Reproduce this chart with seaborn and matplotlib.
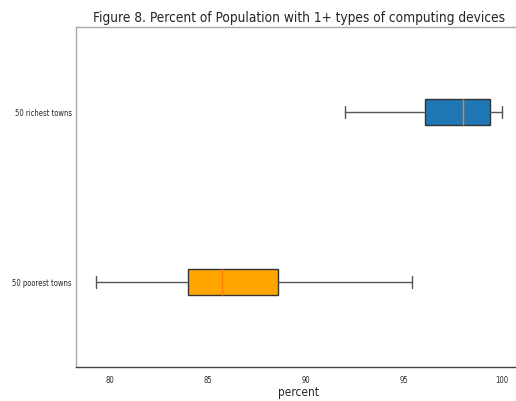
import matplotlib
matplotlib.use("Agg")
import matplotlib.pyplot as plt
import seaborn as sns

sns.set_style("white")
plt.rcParams['font.family'] = ['DejaVu Sans']
plt.rcParams['font.stretch'] = 'condensed'

categories = ["50 poorest towns", "50 richest towns"]
whislo = [79.3, 92.0]
q1 = [84.0, 96.1]
med = [85.7, 98.0]
q3 = [88.6, 99.4]
whishi = [95.4, 100.0]
box_colors = ["orange", "#1f77b4"]

stats = [dict(label=c, whislo=a, q1=b, med=m, q3=d, whishi=e, fliers=[])
         for c, a, b, m, d, e in zip(categories, whislo, q1, med, q3, whishi)]

fig = plt.figure(figsize=(5.16, 4.02), dpi=100)
ax = fig.add_axes([0.1473, 0.0846, 0.8643, 0.8458])
bp = ax.bxp(stats, orientation="horizontal", patch_artist=True, widths=0.15,
            boxprops=dict(edgecolor="#333333", linewidth=1),
            whiskerprops=dict(color="#555555", linewidth=1),
            capprops=dict(color="#555555", linewidth=1),
            medianprops=dict(color="#ff7f0e", linewidth=1))
for patch, col in zip(bp["boxes"], box_colors):
    patch.set_facecolor(col)

ax.set_ylim(0.5, 2.5)
ax.margins(x=0.05)
ax.set_xticks([80, 85, 90, 95, 100])
ax.tick_params(axis="both", labelsize=5.5, length=2.5, width=0.8, color="#333333")
ax.tick_params(axis="x", pad=3)
ax.tick_params(axis="y", pad=0.6)
ax.set_xlabel("percent", fontsize=8.5, labelpad=1)
ax.set_title("Figure 8. Percent of Population with 1+ types of computing devices",
             fontsize=9.8, pad=4.5, loc="center")
for s in ["left", "top", "right"]:
    ax.spines[s].set_color("#aaaaaa")
ax.spines["bottom"].set_color("#444444")
for s in ax.spines.values():
    s.set_linewidth(1)

fig.savefig("out.png", dpi=100)
